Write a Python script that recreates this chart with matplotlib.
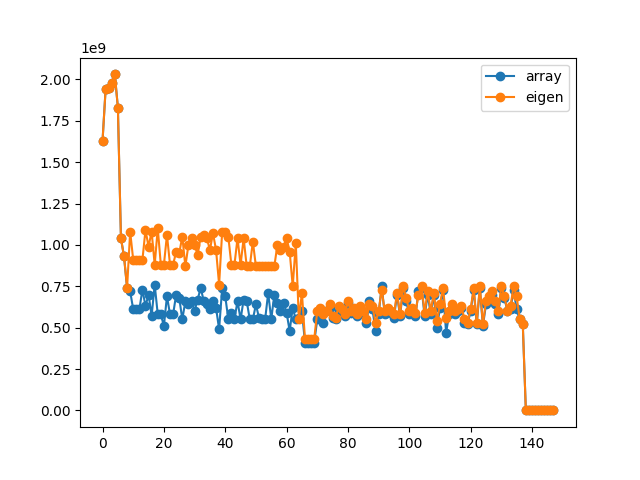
import numpy as np
import matplotlib
matplotlib.use("Agg")
import matplotlib.pyplot as plt

# values in units of 1e9
head = [1.63, 1.94, 1.95, 1.98, 2.03, 1.83, 1.04, 0.93]

eigen_mid = [
    0.74, 1.08, 0.91, 0.91, 0.91, 0.91, 1.09, 0.99, 1.08, 0.88,
    1.10, 0.88, 0.88, 1.06, 0.88, 0.88, 0.96, 0.95, 1.05, 0.87,
    1.00, 1.04, 1.00, 0.94, 1.05, 1.06, 1.04, 0.97, 1.07, 0.97,
    0.76, 1.08, 1.08, 1.05, 0.88, 0.88, 1.04, 0.88, 1.04, 0.87,
    0.87, 1.02, 0.87, 0.87, 0.87, 0.87, 0.87, 0.87, 0.87, 1.00,
    0.97, 0.99, 1.04, 0.96, 0.75, 1.01, 0.55, 0.71,
]
array_mid = [
    0.74, 0.72, 0.61, 0.61, 0.61, 0.73, 0.63, 0.70, 0.57, 0.76,
    0.58, 0.58, 0.51, 0.69, 0.58, 0.58, 0.70, 0.68, 0.55, 0.66,
    0.64, 0.66, 0.60, 0.67, 0.74, 0.66, 0.64, 0.61, 0.66, 0.62,
    0.49, 0.74, 0.69, 0.55, 0.59, 0.55, 0.66, 0.55, 0.67, 0.66,
    0.55, 0.55, 0.64, 0.56, 0.55, 0.55, 0.71, 0.55, 0.70, 0.65,
    0.60, 0.65, 0.59, 0.48, 0.62, 0.55, 0.56, 0.60,
]

eigen_low = [0.43, 0.43, 0.43, 0.43]
array_low = [0.41, 0.41, 0.41, 0.41]

eigen_tail = [
    0.60, 0.62, 0.58, 0.60, 0.64, 0.57, 0.56, 0.63, 0.61, 0.58,
    0.66, 0.60, 0.62, 0.58, 0.63, 0.60, 0.55, 0.64, 0.63, 0.53,
    0.60, 0.73, 0.60, 0.62, 0.60, 0.58, 0.71, 0.58, 0.75, 0.68,
    0.60, 0.62, 0.59, 0.70, 0.75, 0.59, 0.72, 0.60, 0.71, 0.54,
    0.64, 0.74, 0.56, 0.60, 0.64, 0.60, 0.61, 0.63, 0.55, 0.53,
    0.61, 0.74, 0.53, 0.75, 0.52, 0.66, 0.69, 0.72, 0.66, 0.60,
    0.75, 0.69, 0.60, 0.63, 0.75, 0.69, 0.55, 0.52,
]
array_tail = [
    0.55, 0.60, 0.53, 0.60, 0.62, 0.56, 0.55, 0.60, 0.60, 0.57,
    0.65, 0.59, 0.61, 0.57, 0.62, 0.58, 0.53, 0.66, 0.61, 0.48,
    0.58, 0.75, 0.58, 0.60, 0.59, 0.56, 0.70, 0.57, 0.74, 0.66,
    0.58, 0.60, 0.57, 0.72, 0.74, 0.57, 0.70, 0.58, 0.70, 0.50,
    0.62, 0.73, 0.47, 0.58, 0.62, 0.58, 0.60, 0.62, 0.53, 0.52,
    0.60, 0.73, 0.52, 0.74, 0.51, 0.64, 0.67, 0.70, 0.64, 0.58,
    0.74, 0.68, 0.60, 0.61, 0.73, 0.61, 0.55, 0.52,
]

zeros = [0.0] * 10

array_vals = np.array(head + array_mid + array_low + array_tail + zeros) * 1e9
eigen_vals = np.array(head + eigen_mid + eigen_low + eigen_tail + zeros) * 1e9

fig, ax = plt.subplots(figsize=(6.4, 4.8), dpi=100)
ax.plot(array_vals, 'o-', label='array')
ax.plot(eigen_vals, 'o-', label='eigen')
ax.legend(loc='upper right')

plt.savefig('out.png')
